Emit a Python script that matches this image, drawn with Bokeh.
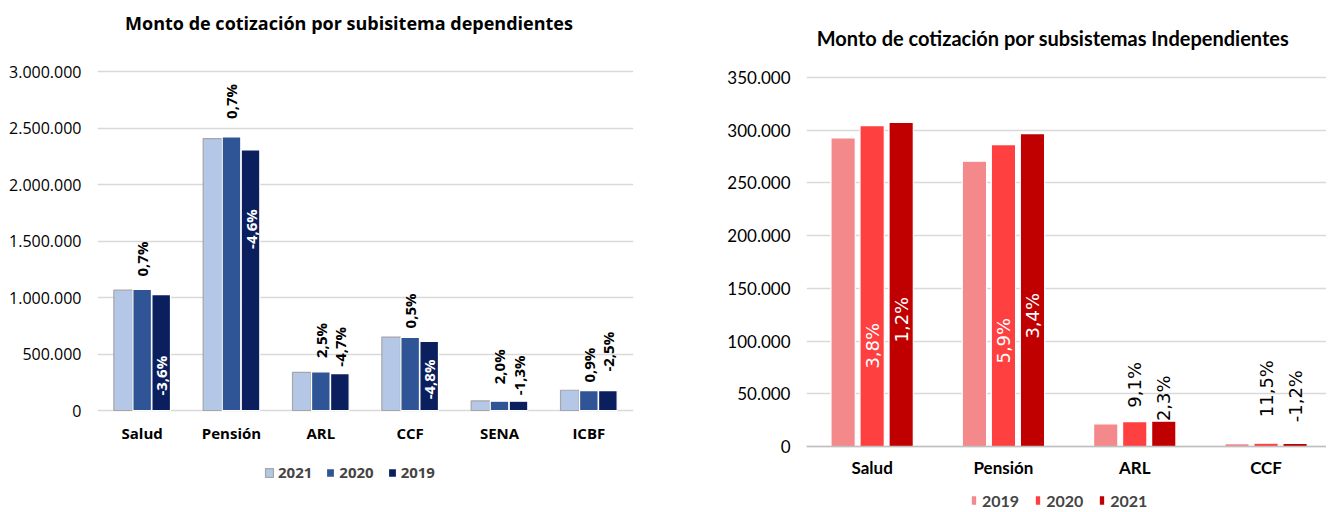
import math
from bokeh.plotting import figure
from bokeh.models import (ColumnDataSource, LabelSet, Label, Legend, LegendItem, Range1d,
                          FixedTicker, Span)
from bokeh.layouts import row
from bokeh.core.properties import value, field
from bokeh.embed import file_html
from bokeh.resources import INLINE

# ---------------- data: dependientes ----------------
dep_title = "Monto de cotización por subisitema dependientes"
dep_categories = ["Salud", "Pensión", "ARL", "CCF", "SENA", "ICBF"]
dep_years = ["2021", "2020", "2019"]
dep_2021 = [1065000, 2406000, 338000, 650000, 85000, 179000]
dep_2020 = [1071000, 2421000, 341000, 647000, 82000, 176000]
dep_2019 = [1026000, 2306000, 326000, 612000, 82000, 176000]
dep_labels_2020 = ["0,7%", "0,7%", "2,5%", "0,5%", "2,0%", "0,9%"]
dep_labels_2019 = ["-3,6%", "-4,6%", "-4,7%", "-4,8%", "-1,3%", "-2,5%"]
dep_yticks = [0, 500000, 1000000, 1500000, 2000000, 2500000, 3000000]

# ---------------- data: independientes ----------------
ind_title = "Monto de cotización por subsistemas Independientes"
ind_categories = ["Salud", "Pensión", "ARL", "CCF"]
ind_years = ["2019", "2020", "2021"]
ind_2019 = [292700, 270600, 21500, 2800]
ind_2020 = [304400, 286400, 23500, 3100]
ind_2021 = [307300, 296800, 24100, 3050]
ind_labels_2020 = ["3,8%", "5,9%", "9,1%", "11,5%"]
ind_labels_2021 = ["1,2%", "3,4%", "2,3%", "-1,2%"]
ind_yticks = [0, 50000, 100000, 150000, 200000, 250000, 300000, 350000]

# ---------------- styling ----------------
# pixel offsets of the rotated labels from the bar tops (negative = inside the bar)
dep_off_2020 = [13, 18, 14, 9, 17, 8]
dep_off_2019 = [-101, -99, 7, -58, 6, 19]
ind_off_2020 = [-243, -219, 14, 26]
ind_off_2021 = [-220, -205, 0, 21]

DEP_COLORS = ["#B4C7E7", "#2F5597", "#0B1F5E"]
DEP_LINES = ["#A6A6A6", "#FFFFFF", "#FFFFFF"]
IND_COLORS = ["#F4898B", "#FF4040", "#C00000"]
GRID = "#D9D9D9"

# page geometry (px); the plot frames fill the full height
H = 510
W1, W2 = 698, 628
DEP_LEFT, DEP_RIGHT = 97, 633          # frame of the left chart
IND_LEFT = 806 - W1                    # border of the right chart
DEP_TOP_PX, DEP_ZERO_PX = 71, 410      # where the top tick and 0 sit (left)
IND_TOP_PX, IND_ZERO_PX = 77, 446      # same (right)


def fmt(v):
    return f"{v:,}".replace(",", ".")


# ======================= left chart =======================
n1 = len(dep_categories)
dmax = dep_yticks[-1]
dpx = (DEP_ZERO_PX - DEP_TOP_PX) / dmax
d_start = -(H - DEP_ZERO_PX) / dpx
d_end = DEP_ZERO_PX / dpx
cpx1 = (DEP_RIGHT - DEP_LEFT) / n1

p1 = figure(width=W1, height=H, output_backend="svg", toolbar_location=None,
            x_axis_location=None,
            x_range=Range1d(0, n1), y_range=Range1d(d_start, d_end),
            min_border_left=DEP_LEFT, min_border_right=W1 - DEP_RIGHT, min_border_top=0,
            min_border_bottom=0, outline_line_color=None,
            background_fill_color="white", border_fill_color="white")
p1.title = None

dstep = 0.213
dep_series = [dep_2021, dep_2020, dep_2019]
renderers1 = []
for k, vals in enumerate(dep_series):
    xs = [i + 0.5 + (k - 1) * dstep for i in range(n1)]
    src = ColumnDataSource(dict(x=xs, top=vals))
    r = p1.vbar(x="x", top="top", bottom=0, width=dstep - 0.005, source=src,
                fill_color=DEP_COLORS[k], line_color=DEP_LINES[k], line_width=1.2)
    renderers1.append(r)

for k, vals, labs, offs in [(1, dep_2020, dep_labels_2020, dep_off_2020),
                            (2, dep_2019, dep_labels_2019, dep_off_2019)]:
    xs = [i + 0.5 + (k - 1) * dstep for i in range(n1)]
    cols = ["white" if o < -10 else "black" for o in offs]
    src = ColumnDataSource(dict(x=xs, y=vals, text=labs, off=offs, color=cols))
    p1.add_layout(LabelSet(x="x", y="y", text="text", y_offset="off", source=src,
                           angle=math.pi / 2, text_align="left", text_baseline="middle",
                           text_color=field("color"), text_font=value("Open Sans"),
                           text_font_style="bold", text_font_size="15px"))

cat_src1 = ColumnDataSource(dict(x=[i + 0.5 for i in range(n1)], y=[0] * n1,
                                 text=dep_categories))
p1.add_layout(LabelSet(x="x", y="y", text="text", y_offset=-22, source=cat_src1,
                       text_align="center", text_baseline="middle", text_color="#000000",
                       text_font=value("Open Sans"), text_font_style="bold",
                       text_font_size="15px"))

# chart title
p1.add_layout(Label(x=(348.5 - DEP_LEFT) / cpx1, y=(DEP_ZERO_PX - 22) / dpx, text=dep_title,
                    text_align="center", text_baseline="middle", text_color="#000000",
                    text_font="Open Sans", text_font_style="bold",
                    text_font_size="18px"))

p1.yaxis.ticker = FixedTicker(ticks=dep_yticks)
p1.yaxis.major_label_overrides = {v: fmt(v) for v in dep_yticks}
p1.xgrid.grid_line_color = None
p1.ygrid.grid_line_color = GRID
p1.ygrid.grid_line_width = 1.6
p1.yaxis.major_tick_line_color = None
p1.yaxis.minor_tick_line_color = None
p1.yaxis.major_tick_out = 0
p1.yaxis.axis_line_color = None
p1.yaxis.major_label_standoff = 16
p1.yaxis.major_label_text_font = "Open Sans"
p1.yaxis.major_label_text_font_size = "16px"
p1.yaxis.major_label_text_color = "#000000"

leg1 = Legend(items=[LegendItem(label=y, renderers=[r]) for y, r in zip(dep_years, renderers1)],
              orientation="horizontal", location=(264 - DEP_LEFT, H - 482),
              glyph_width=10, glyph_height=11,
              label_standoff=4, spacing=13, padding=0, margin=0, border_line_color=None,
              background_fill_alpha=0, label_text_font="Open Sans",
              label_text_font_style="bold", label_text_font_size="15px", label_height=20)
p1.add_layout(leg1, "center")

# ======================= right chart =======================
n2 = len(ind_categories)
cpx2 = 131.3
x_end2 = (W2 - IND_LEFT) / cpx2
imax = ind_yticks[-1]
ipx = (IND_ZERO_PX - IND_TOP_PX) / imax
i_start = -(H - IND_ZERO_PX) / ipx
i_end = IND_ZERO_PX / ipx

p2 = figure(width=W2, height=H, output_backend="svg", toolbar_location=None,
            x_axis_location=None,
            x_range=Range1d(0, x_end2), y_range=Range1d(i_start, i_end),
            min_border_left=IND_LEFT, min_border_right=0, min_border_top=0,
            min_border_bottom=0, outline_line_color=None,
            background_fill_color="white", border_fill_color="white")
p2.title = None

istep = 0.221
ind_series = [ind_2019, ind_2020, ind_2021]
renderers2 = []
for k, vals in enumerate(ind_series):
    xs = [i + 0.5 + (k - 1) * istep for i in range(n2)]
    src = ColumnDataSource(dict(x=xs, top=vals))
    r = p2.vbar(x="x", top="top", bottom=0, width=0.185, source=src,
                fill_color=IND_COLORS[k], line_color="white", line_width=1.2)
    renderers2.append(r)

p2.add_layout(Span(location=0, dimension="width", line_color="#BFBFBF", line_width=1.6))

for k, vals, labs, offs in [(1, ind_2020, ind_labels_2020, ind_off_2020),
                            (2, ind_2021, ind_labels_2021, ind_off_2021)]:
    xs = [i + 0.5 + (k - 1) * istep for i in range(n2)]
    cols = ["white" if o < -10 else "black" for o in offs]
    src = ColumnDataSource(dict(x=xs, y=vals, text=labs, off=offs, color=cols))
    p2.add_layout(LabelSet(x="x", y="y", text="text", y_offset="off", source=src,
                           angle=math.pi / 2, text_align="left", text_baseline="middle",
                           text_color=field("color"), text_font=value("DejaVu Sans"),
                           text_font_size="18px"))

cat_src2 = ColumnDataSource(dict(x=[i + 0.5 for i in range(n2)], y=[0] * n2,
                                 text=ind_categories))
p2.add_layout(LabelSet(x="x", y="y", text="text", y_offset=-21, source=cat_src2,
                       text_align="center", text_baseline="middle", text_color="#000000",
                       text_font=value("Lato"), text_font_style="bold",
                       text_font_size="17px"))

p2.add_layout(Label(x=(1052.5 - 806) / cpx2, y=(IND_ZERO_PX - 37) / ipx, text=ind_title,
                    text_align="center", text_baseline="middle", text_color="#000000",
                    text_font="Lato", text_font_style="bold",
                    text_font_size="20px"))

p2.yaxis.ticker = FixedTicker(ticks=ind_yticks)
p2.yaxis.major_label_overrides = {v: fmt(v) for v in ind_yticks}
p2.xgrid.grid_line_color = None
p2.ygrid.grid_line_color = GRID
p2.ygrid.grid_line_width = 1.6
p2.yaxis.major_tick_line_color = None
p2.yaxis.minor_tick_line_color = None
p2.yaxis.major_tick_out = 0
p2.yaxis.axis_line_color = None
p2.yaxis.major_label_standoff = 16
p2.yaxis.major_label_text_font = "Lato"
p2.yaxis.major_label_text_font_size = "17px"
p2.yaxis.major_label_text_color = "#000000"

leg2 = Legend(items=[LegendItem(label=y, renderers=[r]) for y, r in zip(ind_years, renderers2)],
              orientation="horizontal", location=(970 - 806, 0), glyph_width=7, glyph_height=12,
              label_standoff=5, spacing=15, padding=0, margin=0, border_line_color=None,
              background_fill_alpha=0, label_text_font="Lato",
              label_text_font_style="bold", label_text_font_size="16px", label_height=20)
p2.add_layout(leg2, "center")

layout = row(p1, p2, spacing=0)
open("out.html", "w").write(file_html(layout, INLINE))
